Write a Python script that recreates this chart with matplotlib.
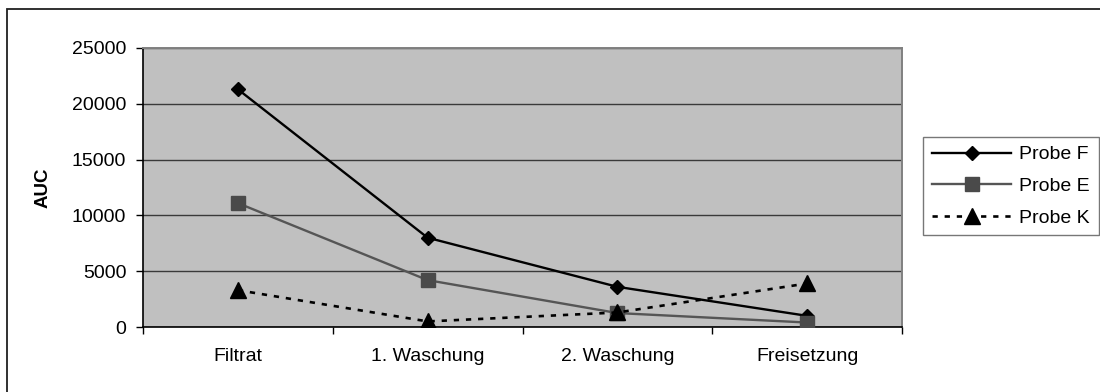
import matplotlib
matplotlib.use("Agg")
import matplotlib.pyplot as plt
from matplotlib.patches import Rectangle
from matplotlib.ticker import FixedLocator, NullFormatter

plt.rcParams['font.family'] = ['Liberation Sans', 'DejaVu Sans']

categories = ["Filtrat", "1. Waschung", "2. Waschung", "Freisetzung"]
probe_f = [21300, 8000, 3600, 1000]
probe_e = [11100, 4200, 1250, 400]
probe_k = [3300, 500, 1300, 3900]
y_ticks = [0, 5000, 10000, 15000, 20000, 25000]

W, H = 1100, 392
fig = plt.figure(figsize=(W / 100, H / 100), dpi=100)
fig.patch.set_facecolor('white')

# outer chart frame (runs off the right and bottom edges)
fig.add_artist(Rectangle((7 / W, -0.1), 1.2, (H - 9) / H + 0.1,
                         transform=fig.transFigure, fill=False,
                         edgecolor='#202020', linewidth=1.3))

ax = fig.add_axes([143 / W, (H - 327) / H, 759 / W, 279 / H])
ax.set_facecolor('#C0C0C0')

x = list(range(len(categories)))
ax.plot(x, probe_f, color='black', linewidth=1.7, marker='D', markersize=7.5,
        markerfacecolor='black', markeredgecolor='black', label='Probe F', zorder=3)
ax.plot(x, probe_e, color='#555555', linewidth=1.7, marker='s', markersize=10,
        markerfacecolor='#4a4a4a', markeredgecolor='#4a4a4a', label='Probe E', zorder=3)
ax.plot(x, probe_k, color='black', linewidth=1.9, linestyle=(0, (2.0, 2.6)), marker='^',
        markersize=11, markerfacecolor='black', markeredgecolor='black',
        label='Probe K', zorder=4)

ax.set_xlim(-0.5, len(categories) - 0.5)
ax.set_ylim(0, 25000)
ax.set_yticks(y_ticks)
ax.yaxis.grid(True, color='#3a3a3a', linewidth=1.0)
ax.set_axisbelow(True)

ax.set_xticks(x)
ax.set_xticklabels(categories)
ax.xaxis.set_minor_locator(FixedLocator([i - 0.5 for i in range(len(categories) + 1)]))
ax.xaxis.set_minor_formatter(NullFormatter())
ax.tick_params(axis='x', which='major', length=0, pad=15, labelsize=14, colors='black')
ax.tick_params(axis='x', which='minor', length=5, width=1.0, color='black', direction='out')
ax.tick_params(axis='y', length=5, width=1.0, pad=7, labelsize=14, direction='out')

for side in ('left', 'bottom'):
    ax.spines[side].set_color('black')
    ax.spines[side].set_linewidth(1.2)
for side in ('top', 'right'):
    ax.spines[side].set_color('#808080')
    ax.spines[side].set_linewidth(1.4)

ax.set_ylabel('AUC', fontsize=13.5, fontweight='bold')
ax.yaxis.set_label_coords((52 - 143) / 759, 0.5)

leg = ax.legend(loc='upper left', bbox_to_anchor=(923 / W, (H - 137) / H),
                bbox_transform=fig.transFigure, frameon=True, fancybox=False,
                fontsize=14, handlelength=4.1, handletextpad=0.4,
                borderpad=0.45, labelspacing=0.72, borderaxespad=0)
leg.get_frame().set_edgecolor('#555555')
leg.get_frame().set_linewidth(1.0)

fig.savefig('out.png', dpi=100)
